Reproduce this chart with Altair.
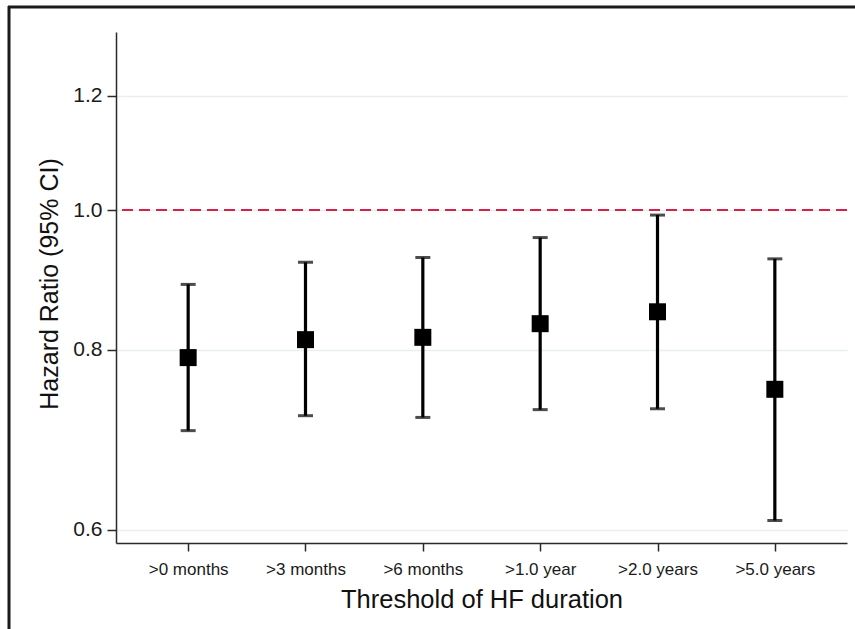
import altair as alt
import pandas as pd

# ---- data ----
thresholds = [">0 months", ">3 months", ">6 months", ">1.0 year", ">2.0 years", ">5.0 years"]
hazard_ratio = [0.790, 0.813, 0.816, 0.834, 0.850, 0.751]
ci_lower = [0.703, 0.720, 0.718, 0.727, 0.728, 0.609]
ci_upper = [0.888, 0.920, 0.927, 0.957, 0.992, 0.925]
y_ticks = [0.6, 0.8, 1.0, 1.2]
reference_value = [1.0]

FONT = "Liberation Sans"
AXIS_COLOR = "#2a2a2a"
Y_TITLE = "Hazard Ratio (95% CI)"

df = pd.DataFrame({"threshold": thresholds, "hr": hazard_ratio,
                   "lo": ci_lower, "hi": ci_upper})
ref_df = pd.DataFrame({"ref": reference_value})
one_df = pd.DataFrame({"a": [0]})

x_scale = alt.Scale(type="point", padding=0.615)
y_scale = alt.Scale(type="log", domain=[0.5875, 1.329], nice=False, zero=False)

x_axis = alt.Axis(
    title="Threshold of HF duration", labelAngle=0, labelFont=FONT, labelFontSize=17,
    labelColor="#1a1a1a", labelPadding=10, tickSize=8, tickWidth=1.5, tickColor=AXIS_COLOR,
    domainColor=AXIS_COLOR, domainWidth=1.5, grid=False,
    titleFont=FONT, titleFontSize=25.5, titleFontWeight="normal", titleColor="#111111",
    titleY=44, titleBaseline="top",
)
y_axis = alt.Axis(
    title=Y_TITLE, values=y_ticks, format=".1f",
    grid=True, gridColor="#e6eef1", gridWidth=1.5,
    labelFont=FONT, labelFontSize=21, labelColor="#1a1a1a", labelPadding=5,
    tickSize=9, tickWidth=1.5, tickColor=AXIS_COLOR,
    domainColor=AXIS_COLOR, domainWidth=1.5,
    titleFont=FONT, titleFontSize=25, titleFontWeight="normal", titleColor="#111111",
    titleAngle=270, titleAlign="center", titleBaseline="alphabetic",
    titleX=-59, titleY=251.5,
)


def xe():
    return alt.X("threshold:N", sort=thresholds, scale=x_scale, axis=x_axis)


def ye(field):
    return alt.Y(field, scale=y_scale, axis=y_axis, title=Y_TITLE)


bars = alt.Chart(df).mark_rule(color="black", strokeWidth=3.2).encode(
    x=xe(), y=ye("lo:Q"), y2="hi:Q",
)
ref_rule = alt.Chart(ref_df).mark_rule(
    color="#d9204b", strokeDash=[11, 6], strokeWidth=2
).encode(y=ye("ref:Q"))
cap_lo = alt.Chart(df).mark_tick(color="black", size=15, thickness=3).encode(
    x=xe(), y=ye("lo:Q"),
)
cap_hi = alt.Chart(df).mark_tick(color="black", size=15, thickness=3).encode(
    x=xe(), y=ye("hi:Q"),
)
squares = alt.Chart(df).mark_square(color="black", filled=True, size=289, opacity=1).encode(
    x=xe(), y=ye("hr:Q"),
)

# outer frame (top and left edges, as in the reference image)
frame_left = alt.Chart(one_df).mark_rule(color="#1a1a1a", strokeWidth=3).encode(
    x=alt.value(-107), y=alt.value(-26), y2=alt.value(600)
)
frame_top = alt.Chart(one_df).mark_rule(color="#1a1a1a", strokeWidth=3).encode(
    x=alt.value(-108), x2=alt.value(745), y=alt.value(-25)
)

chart = alt.layer(
    bars, ref_rule, cap_lo, cap_hi, squares, frame_left, frame_top
).properties(
    width=731, height=511,
    autosize=alt.AutoSizeParams(type="none"),
    padding={"left": 116, "top": 32, "right": 8, "bottom": 86},
    background="white",
).configure_view(strokeWidth=0)

chart.save("out.html", embed_options={"renderer": "svg", "actions": False})
